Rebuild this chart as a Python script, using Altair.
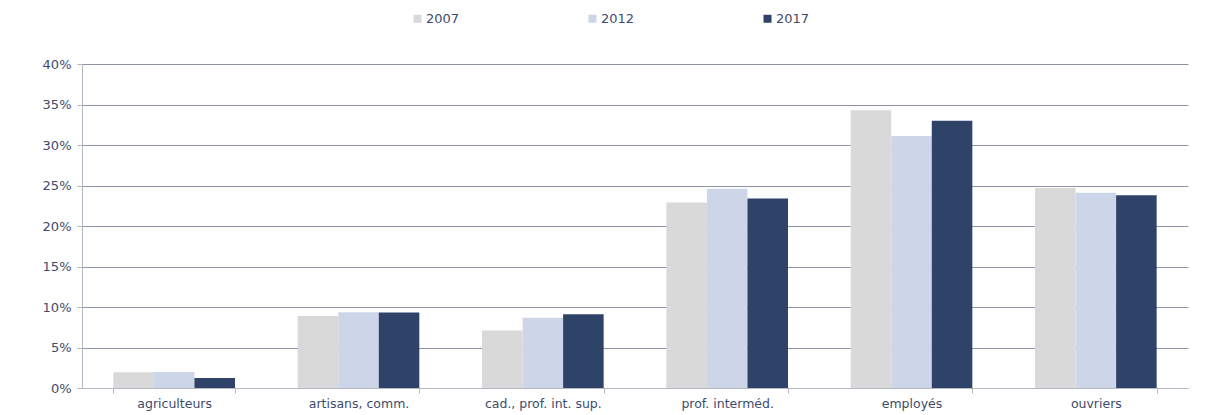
import altair as alt
import pandas as pd

categories = ["agriculteurs", "artisans, comm.", "cad., prof. int. sup.",
              "prof. interméd.", "employés", "ouvriers"]
years = ["2007", "2012", "2017"]
v2007 = [0.0195, 0.0888, 0.071, 0.229, 0.343, 0.247]
v2012 = [0.0197, 0.0934, 0.0868, 0.246, 0.311, 0.241]
v2017 = [0.0124, 0.0932, 0.0909, 0.234, 0.330, 0.238]
colors = ["#D9D9D9", "#CDD6E8", "#2F4369"]

rows = []
for yr, vals in zip(years, [v2007, v2012, v2017]):
    for c, v in zip(categories, vals):
        rows.append({"cat": c, "year": yr, "value": v})
df = pd.DataFrame(rows)

text_color = "#3D4B6C"
font = "DejaVu Sans"

chart = alt.Chart(df).mark_bar().encode(
    x=alt.X("cat:N", sort=categories, title=None,
            scale=alt.Scale(paddingInner=0.34, paddingOuter=0.17),
            axis=alt.Axis(labelAngle=0, tickBand="extent", domainColor="#B4B6C2",
                          tickColor="#B4B6C2", tickSize=5, labelPadding=4,
                          labelColor=text_color, labelFontSize=12.5, labelFont=font,
                          grid=False)),
    xOffset=alt.XOffset("year:N", sort=years),
    y=alt.Y("value:Q", title=None,
            scale=alt.Scale(domain=[0, 0.4], nice=False),
            axis=alt.Axis(values=[i * 0.05 for i in range(9)], format=".0%",
                          domainColor="#B4B6C2", tickColor="#B4B6C2", tickSize=5,
                          labelPadding=6, labelColor=text_color, labelFontSize=13,
                          labelFont=font, gridColor="#8C92A8", gridWidth=1)),
    color=alt.Color("year:N", sort=years,
                    scale=alt.Scale(domain=years, range=colors),
                    legend=alt.Legend(title=None, orient="none", direction="horizontal",
                                      legendX=329, legendY=-52,
                                      symbolType="square", symbolSize=64,
                                      symbolStrokeWidth=0, columnPadding=126,
                                      labelFontSize=13, labelFont=font,
                                      labelColor=text_color, labelOffset=2)),
).properties(
    width=1106, height=324,
    autosize=alt.AutoSizeParams(type="none"),
    padding={"left": 74, "top": 56, "right": 25, "bottom": 26},
).configure_view(stroke=None).configure_axis(domainWidth=1)

chart.save("out.html", embed_options={"renderer": "svg", "actions": False})
